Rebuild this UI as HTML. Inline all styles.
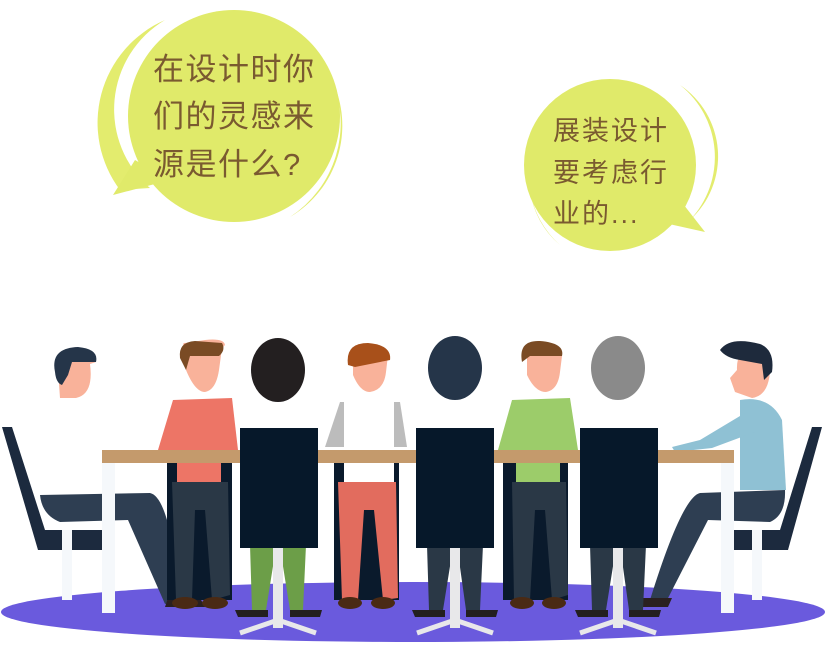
<!DOCTYPE html>
<html><head><meta charset="utf-8">
<style>
html,body{margin:0;padding:0;background:#fff;}
svg{display:block;}
text{font-family:"Liberation Sans","Noto Sans CJK SC",sans-serif;fill:#7a5a30;}
</style></head>
<body>
<svg width="825" height="646" viewBox="0 0 825 646">
<g>
<path d="M165,20 A112,112 0 0 0 120,190 L150,188 A104,104 0 0 1 165,20Z" fill="#e3ec6e"/>
<path d="M332,80 A112,112 0 0 1 290,217 A106,106 0 0 0 332,80Z" fill="#e3ec6e"/>
<circle cx="234" cy="116" r="106" fill="#e0ea6a"/>
<path d="M135,160 L113,195 L170,180Z" fill="#e0ea6a"/>
<text x="153" y="80" font-size="31" letter-spacing="1.5">在设计时你</text>
<text x="153" y="127" font-size="31" letter-spacing="1.5">们的灵感来</text>
<text x="153" y="175" font-size="31" letter-spacing="1.5">源是什么?</text>
</g>
<g>
<path d="M680,85 A92,92 0 0 1 690,220 A86,86 0 0 0 680,85Z" fill="#e3ec6e"/>
<path d="M530,190 A92,92 0 0 0 560,245 A86,86 0 0 1 530,190Z" fill="#e3ec6e"/>
<circle cx="610" cy="165" r="86" fill="#e0ea6a"/>
<path d="M680,200 L705,232 L660,222Z" fill="#e0ea6a"/>
<text x="553" y="140" font-size="27" letter-spacing="2">展装设计</text>
<text x="553" y="182" font-size="27" letter-spacing="2">要考虑行</text>
<text x="553" y="223" font-size="27" letter-spacing="2">业的...</text>
</g>
<ellipse cx="413" cy="612" rx="412" ry="30" fill="#6a5add"/>

<g>
<path d="M2,427 L12,427 L45,530 L110,530 L110,550 L38,550Z" fill="#1c2a3e"/>
<rect x="62" y="530" width="10" height="70" fill="#f5f8fb"/>
<path d="M40,495 L150,493 Q170,497 180,600 L165,604 L128,520 L60,522 Q42,515 40,495Z" fill="#2e3e52"/>
<path d="M168,598 L200,598 L205,607 L165,607Z" fill="#2a2020"/>
<path d="M58,370 Q55,348 78,348 Q96,350 96,362 L90,364 Q94,394 76,398 L60,398Z" fill="#f9b29a"/>
<path d="M55,372 Q50,348 78,347 Q99,349 96,362 L72,362 L68,375 L62,385 Q56,383 55,372Z" fill="#253549"/>
</g>
<g>
<rect x="167" y="460" width="65" height="140" fill="#0a1a2c"/>
<path d="M185,343 Q182,342 184,350 L186,370 Q195,392 205,392 Q216,390 219,370 L222,348 L225,345 Q224,338 205,340Z" fill="#f9b29a"/>
<path d="M180,358 Q178,342 195,341 L222,343 Q226,350 219,356 L190,356 L186,370Z" fill="#7a4b24"/>
<path d="M173,400 L232,398 L238,450 L158,450Z" fill="#ed7566"/>
<rect x="177" y="450" width="44" height="32" fill="#ed7566"/>
<path d="M172,482 L228,482 L230,595 L212,600 L205,510 L195,510 L192,600 L176,600Z" fill="#2a3846"/>
<ellipse cx="185" cy="603" rx="13" ry="6" fill="#4a2a14"/><ellipse cx="215" cy="603" rx="13" ry="6" fill="#4a2a14"/>
</g>
<g>
<rect x="334" y="460" width="65" height="140" fill="#0a1a2c"/>
<path d="M353,355 L353,375 Q360,392 370,392 Q384,390 386,372 L388,355Z" fill="#f9b29a"/>
<path d="M348,365 Q345,343 368,343 Q392,345 390,360 L355,367Z" fill="#a8501a"/>
<path d="M340,402 L400,402 L407,447 L325,447Z" fill="#bcbcbc"/>
<rect x="344" y="402" width="50" height="80" fill="#ffffff"/>
<path d="M338,482 L396,482 L398,598 L383,600 L374,510 L364,510 L358,600 L342,600Z" fill="#e26c5e"/>
<ellipse cx="350" cy="603" rx="12" ry="6" fill="#4a2a14"/><ellipse cx="383" cy="603" rx="12" ry="6" fill="#4a2a14"/>
</g>
<g>
<rect x="503" y="460" width="65" height="140" fill="#0a1a2c"/>
<path d="M527,356 L527,375 Q535,392 546,392 Q558,390 560,372 L562,356Z" fill="#f9b29a"/>
<path d="M522,362 Q518,340 540,341 Q565,343 562,356 L530,356Z" fill="#7a4b24"/>
<path d="M512,400 L570,398 L578,450 L498,450Z" fill="#9ccc6a"/>
<rect x="516" y="450" width="44" height="32" fill="#9ccc6a"/>
<path d="M512,482 L566,482 L568,595 L552,600 L545,510 L535,510 L530,600 L514,600Z" fill="#2a3846"/>
<ellipse cx="522" cy="603" rx="12" ry="6" fill="#4a2a14"/><ellipse cx="554" cy="603" rx="12" ry="6" fill="#4a2a14"/>
</g>
<g>
<path d="M822,427 L812,427 L780,530 L725,530 L725,550 L788,550Z" fill="#1c2a3e"/>
<rect x="752" y="530" width="10" height="70" fill="#f5f8fb"/>
<path d="M740,400 Q770,395 782,420 L786,490 L740,490Z" fill="#8fc1d4"/>
<path d="M750,410 L700,440 L672,447 L675,452 L712,448 L755,432Z" fill="#8fc1d4"/>
<path d="M785,490 L700,493 Q682,497 650,600 L665,604 L708,520 L770,522 Q786,515 785,490Z" fill="#2e3e52"/>
<path d="M642,598 L672,598 L668,607 L630,607Z" fill="#2a2020"/>
<path d="M737,370 Q736,350 752,350 Q770,352 770,372 Q768,396 752,398 L735,392 L730,378Z" fill="#f9b29a"/>
<path d="M720,350 Q730,336 760,344 Q775,350 772,372 L764,380 L762,364 L740,360 Q726,358 720,350Z" fill="#1e2a3c"/>
</g>
<g>
<rect x="102" y="450" width="632" height="13" fill="#c49a6c"/>
<rect x="102" y="463" width="13" height="150" fill="#f5f8fb"/>
<rect x="721" y="463" width="13" height="150" fill="#f5f8fb"/>
</g>
<g>
<ellipse cx="278" cy="370" rx="27" ry="32" fill="#231f20"/>
<path d="M250,545 L306,545 L303,610 L290,610 L282,560 L274,560 L266,610 L252,610Z" fill="#6c9e48"/>
<path d="M235,610 L268,610 L268,617 L238,617Z M290,610 L322,610 L320,617 L290,617Z" fill="#231f20"/>
<rect x="273" y="548" width="10" height="80" fill="#e8e8ea"/>
<path d="M240,633 L278,620 L316,633" stroke="#e8e8ea" stroke-width="5" fill="none"/>
<rect x="240" y="428" width="78" height="120" fill="#06182a"/>
</g>
<g>
<ellipse cx="455" cy="368" rx="27" ry="32" fill="#253549"/>
<path d="M427,545 L483,545 L480,610 L466,610 L459,560 L451,560 L443,610 L429,610Z" fill="#2a3846"/>
<path d="M412,610 L445,610 L445,617 L415,617Z M466,610 L498,610 L496,617 L466,617Z" fill="#231f20"/>
<rect x="450" y="548" width="10" height="80" fill="#e8e8ea"/>
<path d="M417,633 L455,620 L493,633" stroke="#e8e8ea" stroke-width="5" fill="none"/>
<rect x="416" y="428" width="78" height="120" fill="#06182a"/>
</g>
<g>
<ellipse cx="618" cy="368" rx="27" ry="32" fill="#8a8a8a"/>
<path d="M590,545 L646,545 L643,610 L629,610 L622,560 L614,560 L606,610 L592,610Z" fill="#2a3846"/>
<path d="M575,610 L608,610 L608,617 L578,617Z M629,610 L661,610 L659,617 L629,617Z" fill="#231f20"/>
<rect x="613" y="548" width="10" height="80" fill="#e8e8ea"/>
<path d="M580,633 L618,620 L656,633" stroke="#e8e8ea" stroke-width="5" fill="none"/>
<rect x="580" y="428" width="78" height="120" fill="#06182a"/>
</g>
</svg>
</body></html>
